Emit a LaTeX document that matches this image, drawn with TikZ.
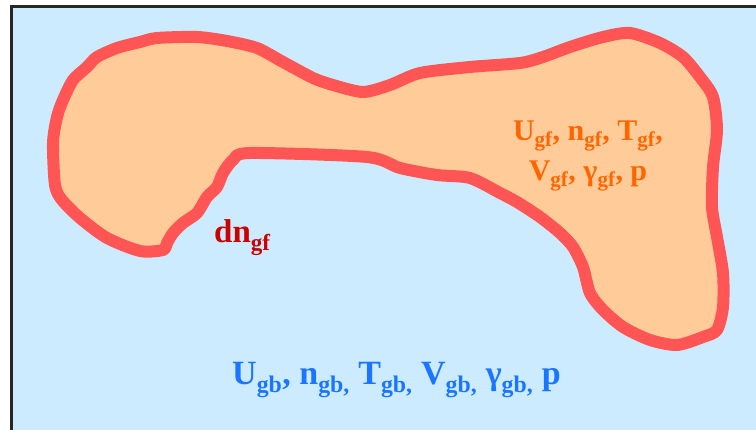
\documentclass[tikz,border=0pt]{standalone}
\usepackage{fontspec}
\setmainfont{Liberation Serif}
\definecolor{skyback}{HTML}{CCEBFF}
\definecolor{peach}{HTML}{FFCC99}
\definecolor{rimred}{HTML}{FF5555}
\definecolor{gforange}{HTML}{FF6600}
\definecolor{dnred}{HTML}{CC0000}
\definecolor{gbblue}{HTML}{1A75FF}
\begin{document}
\begin{tikzpicture}[x=1pt, y=-1pt,
  vals/.style={font=\bfseries\fontsize{30}{40}\selectfont, inner sep=0pt}]
\useasboundingbox (0,0) rectangle (756,430);
\fill[skyback] (11,7) rectangle (756,430);
\draw[line width=3pt, black!85] (11,430) -- (11,7) -- (756,7);
% grain of gas
\draw[line width=12pt, rimred, fill=peach, line join=round] plot[smooth cycle, tension=0.45] coordinates {
(140,251) (107,238) (80,218) (62,200) (55,185) (53,143) (57,117) (63,100) (73,80) (87,67) (97,57) (117,48) (140,42) (157,38) (197,37) (227,41) (257,48) (283,62) (313,78) (333,85) (363,92) (390,85) (420,73) (470,67) (520,63) (543,57) (570,47) (603,37) (630,33) (660,43) (683,57) (700,77) (713,97) (717,130) (713,167) (712,207) (717,237) (723,273) (723,307) (717,330) (703,337) (677,345) (650,340) (623,327) (603,310) (590,293) (583,267) (573,247) (560,233) (540,217) (517,202) (500,193) (470,178) (437,175) (400,168) (367,157) (250,153) (233,160) (223,173) (217,187) (207,197) (197,213) (183,223) (173,233) (167,243) (163,250)};
\node[vals, text=gforange, align=center] (gfvals) at (588,156) {U\textsubscript{gf}, n\textsubscript{gf}, T\textsubscript{gf},\\ V\textsubscript{gf}, γ\textsubscript{gf}, p};
\node[vals, text=dnred, anchor=base west, font=\bfseries\fontsize{33}{40}\selectfont] (dngf) at (214,243) {dn\textsubscript{gf}};
\node[vals, text=gbblue, anchor=base west, font=\bfseries\fontsize{34}{40}\selectfont] (gbvals) at (232,385) {U\textsubscript{gb}, n\textsubscript{gb,} T\textsubscript{gb,} V\textsubscript{gb,} γ\textsubscript{gb,} p};
\end{tikzpicture}
\end{document}
